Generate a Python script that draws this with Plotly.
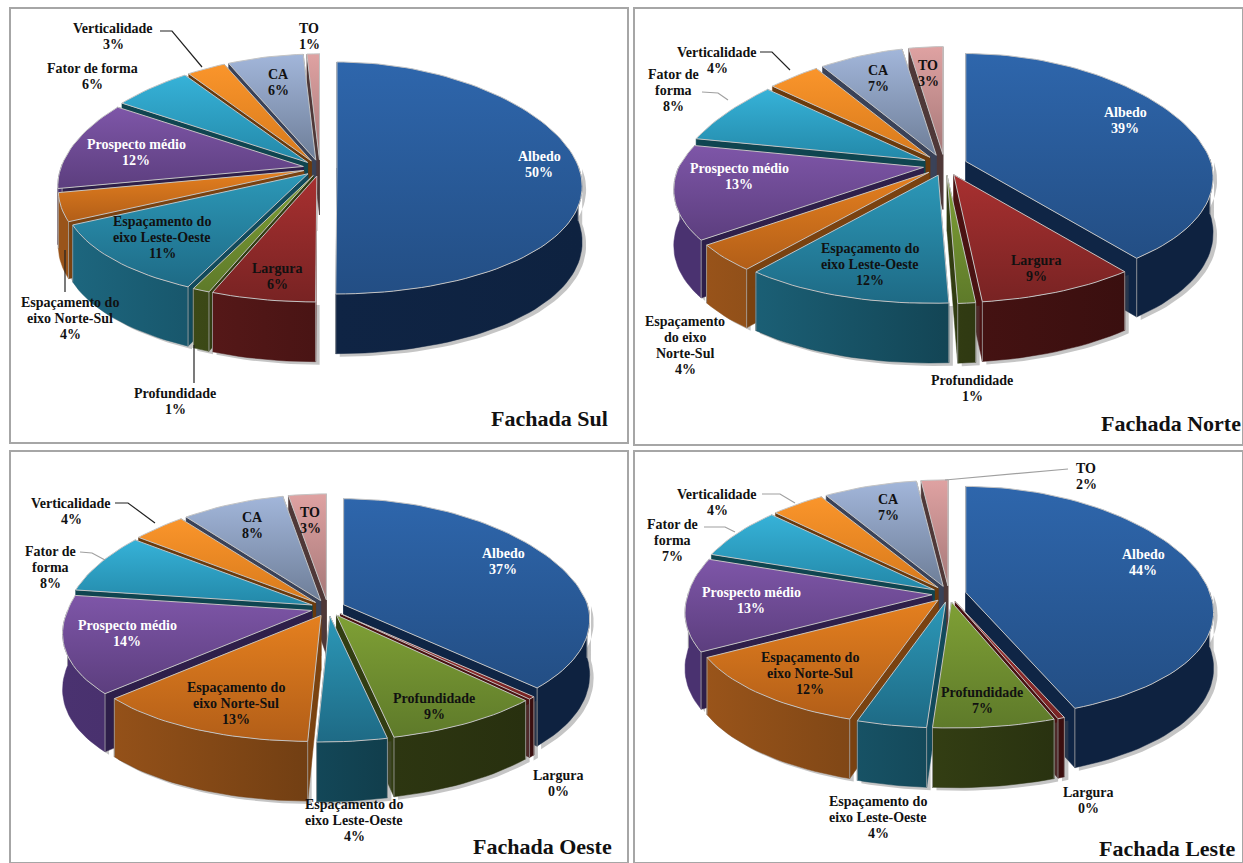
import numpy as np
import plotly.graph_objects as go

# ---------- data ----------
categories = ["Albedo", "Largura", "Profundidade", "Espaçamento do eixo Leste-Oeste",
              "Espaçamento do eixo Norte-Sul", "Prospecto médio", "Fator de forma",
              "Verticalidade", "CA", "TO"]
sul = [50, 6, 1, 11, 4, 12, 6, 3, 6, 1]
norte = [39, 9, 1, 12, 4, 13, 8, 4, 7, 3]
oeste = [37, 0.4, 9, 4, 13, 14, 8, 4, 8, 3]
leste = [44, 0.4, 7, 4, 12, 13, 7, 4, 7, 2]
panel_names = ["Fachada Sul", "Fachada Norte", "Fachada Oeste", "Fachada Leste"]

# ---------- style / layout ----------
top_colors = [("#2E66AC", "#234E84"), ("#A83030", "#782323"), ("#7FA035", "#5E7A2A"),
              ("#2C98B8", "#1E6A85"), ("#E5801F", "#B25E18"), ("#7E56A8", "#5C3E7E"),
              ("#36B2D8", "#2388A8"), ("#FA952B", "#D87A1C"), ("#A2B6DA", "#6E7E98"),
              ("#DFA2A2", "#A67878")]
side_colors = [("#12294D", "#0E2240"), ("#651D1D", "#3A0F0F"), ("#46551A", "#28300F"),
               ("#1D667E", "#0E3642"), ("#99541A", "#5A320F"), ("#4A3270", "#35234F"),
               ("#16626F", "#0F4650"), ("#9A5A14", "#70400F"), ("#565F7A", "#3E465A"),
               ("#715050", "#523A3A")]
face_colors = ["#0F2545", "#4A1212", "#323D12", "#124A5C", "#7A4210", "#2E1F4A",
               "#0F4550", "#6B3A0C", "#3A4258", "#4F3838"]
geom = [dict(cx=320, cy=168, rx=242, ry=116, e=0.07, skew=0.005, tl=0.0),
        dict(cx=945, cy=165, rx=245, ry=118, e=0.09, skew=0.03, tl=0.09),
        dict(cx=328, cy=608, rx=244, ry=116, e=0.07, skew=0.04, tl=0.0),
        dict(cx=949, cy=594, rx=244, ry=116, e=0.07, skew=-0.01, tl=-0.05)]
PERSP_Y = 0.086
PERSP_X = 0.17
DEPTH = 55
TXT = "#111111"
FONT = "Liberation Serif"


def project(g, u, v, off, drop=0.0):
    u, v = np.asarray(u, dtype=float), np.asarray(v, dtype=float)
    s = 1 + PERSP_Y * v
    x = (u * (1 + PERSP_X * v) + off[0] - g["skew"] * np.maximum(v, 0)
         + g["tl"] * np.maximum(-u, 0) * np.maximum(-v, 0))
    return g["cx"] + g["rx"] * x, g["cy"] + g["ry"] * (v * s + off[1]) + drop * s


def lerp_hex(c1, c2, t):
    t = min(max(t, 0.0), 1.0)
    a = [int(c1[k:k + 2], 16) for k in (1, 3, 5)]
    b = [int(c2[k:k + 2], 16) for k in (1, 3, 5)]
    return "#" + "".join(f"{round(p + (q - p) * t):02X}" for p, q in zip(a, b))


def poly(fig, xs, ys, c1, c2, kind, line=None):
    fig.add_trace(go.Scatter(
        x=list(xs), y=list(ys), mode="lines", fill="toself",
        line=dict(color=line or c2, width=1 if line else 0.5),
        fillgradient=dict(type=kind, colorscale=[[0, c1], [1, c2]]),
        hoverinfo="skip", showlegend=False))


def draw_pie(fig, values, g):
    vals = np.array(values, dtype=float)
    edges = np.concatenate([[0], np.cumsum(vals)]) / vals.sum() * 2 * np.pi
    mids = (edges[:-1] + edges[1:]) / 2
    order = sorted(range(len(vals)), key=lambda i: -np.cos(mids[i]))  # back of the disc first
    for i in order:
        a, b, m = edges[i], edges[i + 1], mids[i]
        off = (g["e"] * np.sin(m), -g["e"] * np.cos(m))
        n = max(3, int((b - a) / np.radians(2)) + 2)
        th = np.linspace(a, b, n)
        u, v = np.sin(th), -np.cos(th)
        front = v > -0.02
        if front.sum() >= 2:
            tx, ty = project(g, u[front], v[front], off)
            bx, by = project(g, u[front], v[front], off, DEPTH)
            # soft drop shadow behind the wall
            fig.add_trace(go.Scatter(
                x=np.r_[tx, bx[::-1], tx[0]] + 4, y=np.r_[ty, by[::-1], ty[0]] + 3,
                mode="lines", fill="toself", line=dict(width=0), fillcolor="rgba(90,90,90,0.35)",
                hoverinfo="skip", showlegend=False))
        # radial faces
        for t in (a, b):
            uu, vv = np.sin(t), -np.cos(t)
            p0, p1 = project(g, 0, 0, off), project(g, uu, vv, off)
            p2, p3 = project(g, uu, vv, off, DEPTH), project(g, 0, 0, off, DEPTH)
            poly(fig, [p0[0], p1[0], p2[0], p3[0], p0[0]], [p0[1], p1[1], p2[1], p3[1], p0[1]],
                 face_colors[i], face_colors[i], "horizontal")
        # outer wall (front half only); shade follows its position across the disc
        if front.sum() >= 2:
            left = g["cx"] - g["rx"]
            c1 = lerp_hex(*side_colors[i], (tx.min() - left) / (1.5 * g["rx"]))
            c2 = lerp_hex(*side_colors[i], (tx.max() - left) / (1.5 * g["rx"]))
            poly(fig, np.r_[tx, bx[::-1], tx[0]], np.r_[ty, by[::-1], ty[0]], c1, c2, "horizontal")
            for k in (0, -1):
                fig.add_trace(go.Scatter(x=[tx[k], bx[k]], y=[ty[k], by[k]], mode="lines",
                                         line=dict(color="#A8A8A8", width=0.8),
                                         hoverinfo="skip", showlegend=False))
        # top surface
        ax, ay = project(g, 0, 0, off)
        x, y = project(g, u, v, off)
        poly(fig, np.r_[ax, x, ax], np.r_[ay, y, ay],
             top_colors[i][1], top_colors[i][0], "vertical", line="#C4C4C4")


def pct(v):
    return f"{round(v)}%"


LE = ["Espaçamento do", "eixo Leste-Oeste"]
NS = ["Espaçamento do", "eixo Norte-Sul"]
# label positions (text lines, centre x, centre y of first line, colour)
label_layout = [
    [(["Albedo"], 539, 156, "white"), (["Largura"], 277, 268, TXT), (["Profundidade"], 175, 393, TXT),
     (LE, 162, 221, TXT), (NS, 70, 302, TXT), (["Prospecto médio"], 136, 144, "white"),
     (["Fator de forma"], 92, 68, TXT), (["Verticalidade"], 113, 28, TXT), (["CA"], 278, 74, TXT),
     (["TO"], 309, 28, TXT)],
    [(["Albedo"], 1125, 112, "white"), (["Largura"], 1036, 260, TXT), (["Profundidade"], 972, 380, TXT),
     (LE, 870, 248, TXT), (["Espaçamento", "do eixo", "Norte-Sul"], 685, 321, TXT),
     (["Prospecto médio"], 739, 168, "white"), (["Fator de", "forma"], 673, 74, TXT),
     (["Verticalidade"], 717, 52, TXT), (["CA"], 878, 70, TXT), (["TO"], 928, 65, TXT)],
    [(["Albedo"], 503, 553, "white"), (["Largura"], 558, 775, TXT), (["Profundidade"], 434, 698, TXT),
     (LE, 354, 804, TXT), (NS, 236, 687, TXT), (["Prospecto médio"], 127, 625, "white"),
     (["Fator de", "forma"], 50, 551, TXT), (["Verticalidade"], 71, 503, TXT), (["CA"], 252, 517, TXT),
     (["TO"], 310, 512, TXT)],
    [(["Albedo"], 1143, 554, "white"), (["Largura"], 1088, 792, TXT), (["Profundidade"], 982, 692, TXT),
     (LE, 878, 801, TXT), (NS, 810, 657, TXT), (["Prospecto médio"], 751, 592, "white"),
     (["Fator de", "forma"], 672, 524, TXT), (["Verticalidade"], 717, 494, TXT), (["CA"], 888, 499, TXT),
     (["TO"], 1086, 468, TXT)],
]
title_layout = [(610, 418), (1243, 423), (614, 846), (1238, 848)]
frames = [(10, 8, 628, 443), (634, 8, 1243, 445), (10, 451, 628, 863), (634, 451, 1243, 863)]
leaders = [
    ([160, 172, 202], [31, 31, 67], "#222222"), ([65, 65], [250, 292], "#222222"),
    ([194, 194], [345, 383], "#222222"),
    ([760, 772, 790], [52, 52, 70], "#222222"), ([702, 718, 728], [92, 93, 100], "#A0A0A0"),
    ([115, 128, 155], [503, 503, 523], "#222222"), ([80, 92, 105], [552, 553, 560], "#A0A0A0"),
    ([762, 780, 795], [494, 494, 503], "#A0A0A0"), ([704, 725, 735], [527, 527, 532], "#A0A0A0"),
    ([1068, 945], [469, 480], "#A0A0A0"),
]

fig = go.Figure()
annotations = []
for values, g, labels, name, tpos in zip([sul, norte, oeste, leste], geom, label_layout, panel_names, title_layout):
    draw_pie(fig, values, g)
    for val, (lines, x, y, col) in zip(values, labels):
        for k, line in enumerate(lines + [pct(val)]):
            annotations.append(dict(x=x, y=y + 16 * k, text=line, showarrow=False, xanchor="center",
                                    yanchor="middle", font=dict(family=FONT, size=14, color=col, weight=700)))
    annotations.append(dict(x=tpos[0], y=tpos[1], text=name, showarrow=False, xanchor="right", yanchor="middle",
                            font=dict(family=FONT, size=22, color="#111111", weight=700)))

for xs, ys, col in leaders:
    fig.add_trace(go.Scatter(x=xs, y=ys, mode="lines", line=dict(color=col, width=1.2),
                             hoverinfo="skip", showlegend=False))

shapes = [dict(type="rect", xref="x", yref="y", x0=f[0], y0=f[1], x1=f[2], y1=f[3],
               line=dict(color="#A6A6A6", width=2), fillcolor="rgba(0,0,0,0)", layer="below") for f in frames]

fig.update_layout(
    width=1243, height=863, margin=dict(l=0, r=0, t=0, b=0), paper_bgcolor="white", plot_bgcolor="white",
    xaxis=dict(range=[0, 1243], visible=False, fixedrange=True),
    yaxis=dict(range=[863, 0], visible=False, fixedrange=True),
    shapes=shapes, annotations=annotations, showlegend=False)

fig.write_html("out.html", config={"displayModeBar": False}, post_script="document.body.style.margin='0';")
